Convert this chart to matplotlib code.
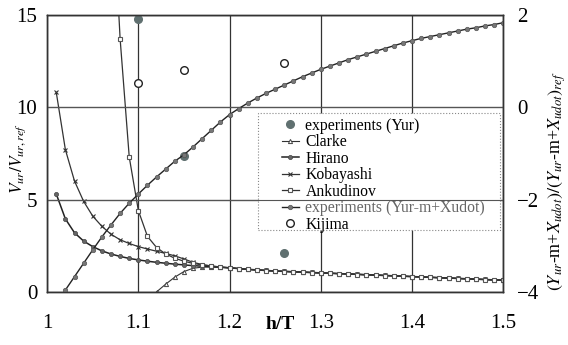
import numpy as np
import matplotlib.pyplot as plt
from matplotlib.patches import Rectangle

plt.rcParams['font.family'] = ['Liberation Serif', 'DejaVu Serif']
plt.rcParams['mathtext.fontset'] = 'stix'

# h/T grid of the model curves (0.01 steps)
h_head = [1.01, 1.02, 1.03, 1.04, 1.05, 1.06, 1.07, 1.08, 1.09, 1.10,
          1.11, 1.12, 1.13, 1.14, 1.15, 1.16, 1.17, 1.18, 1.19, 1.20]
h_tail = [1.21, 1.22, 1.23, 1.24, 1.25, 1.26, 1.27, 1.28, 1.29, 1.30,
          1.31, 1.32, 1.33, 1.34, 1.35, 1.36, 1.37, 1.38, 1.39, 1.40,
          1.41, 1.42, 1.43, 1.44, 1.45, 1.46, 1.47, 1.48, 1.49, 1.50]

# common tail where the model curves run together
tail_vals = [1.26, 1.22, 1.19, 1.16, 1.13, 1.11, 1.09, 1.07, 1.05, 1.03,
             1.01, 0.99, 0.97, 0.95, 0.93, 0.91, 0.89, 0.87, 0.85, 0.83,
             0.81, 0.79, 0.77, 0.75, 0.73, 0.71, 0.69, 0.67, 0.65, 0.63]
ankudinov_tail = [1.26, 1.22, 1.18, 1.15, 1.12, 1.10, 1.08, 1.06, 1.04, 1.02,
                  1.00, 0.98, 0.96, 0.94, 0.92, 0.90, 0.88, 0.86, 0.84, 0.82,
                  0.80, 0.78, 0.76, 0.74, 0.72, 0.70, 0.68, 0.66, 0.64, 0.62]

kobayashi_head = [10.8, 7.7, 6.0, 4.9, 4.1, 3.55, 3.12, 2.82, 2.62, 2.45,
                  2.32, 2.2, 2.08, 1.95, 1.78, 1.6, 1.48, 1.4, 1.34, 1.3]
hirano_head = [5.3, 3.95, 3.2, 2.75, 2.45, 2.22, 2.05, 1.92, 1.81, 1.73,
               1.66, 1.6, 1.55, 1.5, 1.46, 1.42, 1.39, 1.36, 1.33, 1.3]

ankudinov_h = [1.077, 1.08, 1.09, 1.10, 1.11, 1.12, 1.13, 1.14, 1.15, 1.16,
               1.17, 1.18, 1.19, 1.20]
ankudinov_head = [16.5, 13.7, 7.3, 4.4, 3.0, 2.4, 2.05, 1.82, 1.66, 1.54,
                  1.46, 1.4, 1.35, 1.31]

clarke_h = [1.12, 1.13, 1.14, 1.15, 1.16, 1.17, 1.18, 1.19, 1.20]
clarke_head = [0.0, 0.42, 0.8, 1.1, 1.28, 1.34, 1.35, 1.33, 1.3]

# experiments, right axis
xudot_h = [1.02, 1.03, 1.04, 1.05, 1.06, 1.07, 1.08, 1.09, 1.10,
           1.11, 1.12, 1.13, 1.14, 1.15, 1.16, 1.17, 1.18, 1.19, 1.20] + h_tail
xudot_vals = [-3.96, -3.67, -3.38, -3.09, -2.81, -2.55, -2.30, -2.08, -1.88,
              -1.69, -1.51, -1.34, -1.17, -1.03, -0.86, -0.68, -0.50, -0.32, -0.16,
              -0.03, 0.09, 0.20, 0.30, 0.39, 0.48, 0.57, 0.66, 0.74, 0.82,
              0.89, 0.96, 1.03, 1.09, 1.15, 1.21, 1.27, 1.33, 1.39, 1.44,
              1.49, 1.53, 1.57, 1.61, 1.65, 1.69, 1.72, 1.76, 1.79, 1.83]

yur_h = [1.10, 1.15, 1.26]
yur_vals = [14.8, 7.35, 2.1]
kijima_h = [1.10, 1.15, 1.26]
kijima_vals = [11.3, 12.0, 12.38]

fig = plt.figure(figsize=(5.68, 3.45), dpi=100)
ax = fig.add_axes([0.083, 0.154, 0.803, 0.803])
ax2 = ax.twinx()

ax.plot(clarke_h + h_tail, clarke_head + tail_vals, color='#333333', lw=0.8,
        marker='^', ms=3, mfc='white', mec='#444444', mew=0.7, label='Clarke')
ax.plot(h_head + h_tail, hirano_head + tail_vals, color='#222222', lw=1.1,
        marker='o', ms=3, mfc='#666666', mec='#444444', mew=0.5, label='Hirano')
ax.plot(h_head + h_tail, kobayashi_head + tail_vals, color='#333333', lw=0.9,
        marker='x', ms=3.5, mec='#333333', mew=0.8, label='Kobayashi')
ax.plot(ankudinov_h + h_tail, ankudinov_head + ankudinov_tail, color='#333333', lw=0.9,
        marker='s', ms=3.5, mfc='white', mec='#555555', mew=0.8, label='Ankudinov')
ax.plot(yur_h, yur_vals, 'o', ms=5.5, color='#607070', label='experiments (Yur)')
ax.plot(kijima_h, kijima_vals, 'o', ms=5.5, mfc='white', mec='#222222', mew=1.0,
        label='Kijima')

ax2.plot(xudot_h, xudot_vals, color='#222222', lw=1.0, marker='o', ms=3.2,
         mfc='#777777', mec='#555555', mew=0.5, label='experiments (Yur-m+Xudot)')

ax.set_xlim(1.0, 1.5)
ax.set_ylim(0, 15)
ax2.set_ylim(-4, 2)
ax.set_xticks([1, 1.1, 1.2, 1.3, 1.4, 1.5])
ax.set_xticklabels(['1', '1.1', '1.2', '1.3', '1.4', '1.5'])
ax.set_yticks([0, 5, 10, 15])
ax2.set_yticks([-4, -2, 0, 2])
ax.tick_params(axis='x', length=0, pad=16, labelsize=15)
ax.tick_params(axis='y', length=0, pad=7, labelsize=15)
ax2.tick_params(axis='y', length=0, pad=10, labelsize=15)
ax.grid(True, color='#333333', lw=0.9)
ax2.grid(True, axis='y', color='#555555', lw=0.8)
for a in (ax, ax2):
    for s in a.spines.values():
        s.set_color('#333333')
        s.set_linewidth(1.0)

ax.set_ylabel(r'$V_{ur}/V_{ur,ref}$', fontsize=12.5)
ax.yaxis.set_label_coords(-0.042, 0.48)
ax2.set_ylabel(r'$(Y_{ur}$-m+$X_{udot})/(Y_{ur}$-m+$X_{udot})_{ref}$', fontsize=13)
ax2.yaxis.set_label_coords(1.095, 0.4)
ax.text(0.511, -0.118, 'h/T', transform=ax.transAxes, fontsize=14, fontweight='bold',
        ha='center', va='center')

# legend box: white panel under the right-axis grid, entries on top
ax.add_patch(Rectangle((0.463, 0.224), 0.53, 0.422, transform=ax.transAxes,
                       facecolor='white', edgecolor='#888888', lw=0.8, ls=':',
                       zorder=5))
h1, l1 = ax.get_legend_handles_labels()
h2, l2 = ax2.get_legend_handles_labels()
lookup = dict(zip(l1 + l2, h1 + h2))
order = ['experiments (Yur)', 'Clarke', 'Hirano', 'Kobayashi', 'Ankudinov',
         'experiments (Yur-m+Xudot)', 'Kijima']
leg = ax2.legend([lookup[k] for k in order], order, loc='upper left',
                 bbox_to_anchor=(0.487, 0.674), fontsize=11.3, handlelength=1.1,
                 handletextpad=0.4, labelspacing=0.03, borderpad=0.3,
                 frameon=False)
leg.get_texts()[5].set_color('#666666')

fig.savefig('out.png', dpi=100)
